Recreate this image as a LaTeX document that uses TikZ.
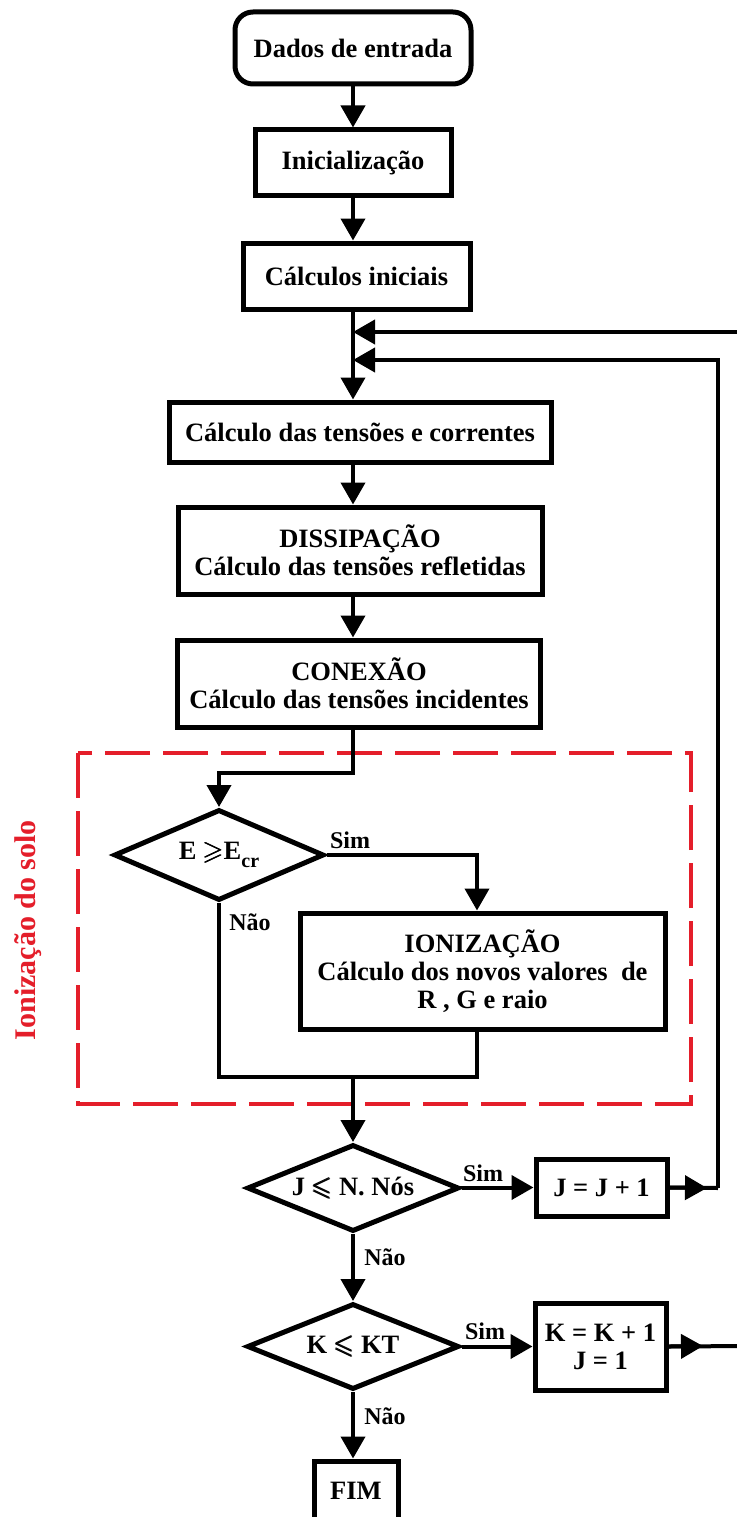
\documentclass[tikz,border=0pt]{standalone}
\usepackage{amsmath}
\usepackage{amssymb}
\usepackage{fontspec}
\setmainfont{Liberation Serif}
\usetikzlibrary{arrows.meta,shapes.geometric,calc}
\definecolor{dashred}{RGB}{228,30,42}
\newcommand\flowfont{\fontsize{26.5}{28}\selectfont\bfseries}
\newcommand\lblfont{\fontsize{24}{26}\selectfont\bfseries}
\newcommand\subcr[1]{\raisebox{-0.28em}{\fontsize{20}{20}\selectfont\bfseries #1}}
\begin{document}
\begin{tikzpicture}[x=1pt,y=-1pt,
  box/.style={draw, line width=5pt, rectangle, inner sep=0pt, align=center, font=\flowfont, fill=white},
  dia/.style={draw, line width=5pt, diamond, inner sep=0pt, aspect=2.3, font=\flowfont, fill=white},
  conn/.style={line width=4pt},
  arr/.style={line width=4pt, -{Triangle[length=22pt,width=24pt]}},
  lbl/.style={font=\lblfont, inner sep=0pt},
  zone/.style={draw=dashred, line width=3.5pt, dash pattern=on 45pt off 13pt}
]
\useasboundingbox (0,0) rectangle (736,1517);

% dashed region
\draw[zone] (78,753) rectangle (691,1104);
\node[rotate=90, text=dashred, font=\fontsize{30}{31}\selectfont\bfseries, inner sep=0pt] (zonelbl) at (28,930) {Ionização do solo};

% nodes
\node[box, rounded corners=18pt, minimum width=236pt, minimum height=72pt] (dados) at (353,48) {Dados de entrada};
\node[box, minimum width=196pt, minimum height=66pt] (init) at (353,163) {Inicialização};
\node[box, minimum width=227pt, minimum height=66pt] (calc) at (356.5,276) {Cálculos iniciais};
\node[box, minimum width=382pt, minimum height=60pt] (tens) at (360,432) {Cálculo das tensões e correntes};
\node[box, minimum width=364pt, minimum height=87pt] (diss) at (360,550.5) {DISSIPAÇÃO\\Cálculo das tensões refletidas};
\node[box, minimum width=363pt, minimum height=87pt] (conex) at (359,683.5) {CONEXÃO\\Cálculo das tensões incidentes};
\node[dia, minimum width=210pt, minimum height=91pt] (diamE) at (219,855) {E $\pmb{\geqslant}$E\subcr{cr}};
\node[box, minimum width=365pt, minimum height=116pt] (ion) at (482.5,971) {IONIZAÇÃO\\Cálculo dos novos valores~ de\\R , G e raio};
\node[dia, minimum width=212pt, minimum height=87pt] (diamJ) at (353,1188) {J $\pmb{\leqslant}$ N. Nós};
\node[box, minimum width=131pt, minimum height=57pt] (jbox) at (601.5,1187.5) {J = J + 1};
\node[dia, minimum width=212pt, minimum height=86pt] (diamK) at (353,1346.5) {K $\pmb{\leqslant}$ KT};
\node[box, minimum width=131pt, minimum height=87pt] (kbox) at (600.5,1346.5) {K = K + 1\\J = 1};
\node[box, minimum width=84pt, minimum height=60pt] (fim) at (356,1491) {FIM};

% labels
\node[lbl] (simE) at (350,840) {Sim};
\node[lbl] (naoE) at (250,922) {Não};
\node[lbl] (simJ) at (483,1173) {Sim};
\node[lbl] (naoJ) at (385,1257) {Não};
\node[lbl] (simK) at (485,1331) {Sim};
\node[lbl] (naoK) at (385,1416) {Não};

% helper coordinates
\coordinate (sp) at (353,0);
\coordinate (ionx) at (477,0);
\coordinate (split) at (353,773);
\coordinate (merge) at (353,1077);
\coordinate (mergeR) at (477,1077);
\coordinate (inK) at (353,332);
\coordinate (inJ) at (353,360);
\coordinate (loopJ) at (718,1188);
\coordinate (jtip) at (707,1188);
\coordinate (loopK) at (748,1346);
\coordinate (ktip) at (703,1346);

% main spine
\draw[arr] (dados.south -| sp) -- (init.north -| sp);
\draw[arr] (init.south -| sp) -- (calc.north -| sp);
\draw[arr] (calc.south -| sp) -- (tens.north -| sp);
\draw[arr] (tens.south -| sp) -- (diss.north -| sp);
\draw[arr] (diss.south -| sp) -- (conex.north -| sp);

% ionization block
\draw[arr] (conex.south -| sp) -- (split) -| (diamE.north);
\draw[arr] (diamE.east) -| (ion.north -| ionx);
\draw[conn] (diamE.south) |- (mergeR) -- (ion.south -| ionx);
\draw[arr] (merge) -- (diamJ.north);

% decisions
\draw[arr] (diamJ.east) -- (jbox.west -| diamJ.east) -- (jbox.west);
\draw[arr] (diamJ.south) -- (diamK.north);
\draw[arr] (diamK.east) -- (kbox.west);
\draw[arr] (diamK.south) -- (diamK.south |- fim.north);

% loops
\draw[conn] (jbox.east) -- (loopJ);
\draw[arr] (jbox.east) -- (jtip);
\draw[arr] (loopJ) |- (inJ);
\draw[conn] (kbox.east) -- (loopK);
\draw[arr] (kbox.east) -- (ktip);
\draw[arr] (loopK) |- (inK);
\end{tikzpicture}
\end{document}
